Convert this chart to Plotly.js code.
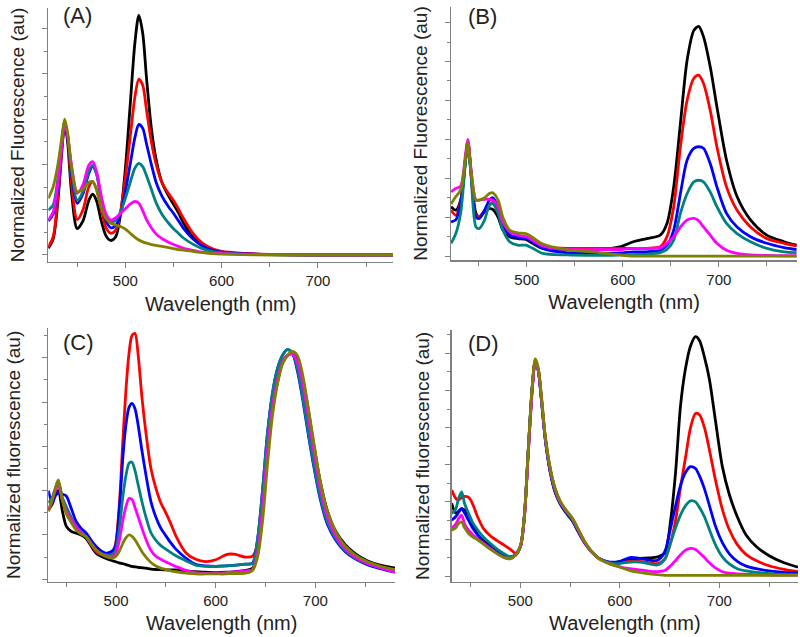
<!DOCTYPE html>
<html>
<head>
<meta charset="utf-8">
<script src="https://cdn.plot.ly/plotly-3.0.1.min.js"></script>
<style>html,body{margin:0;padding:0;background:#fff;}#chart{width:800px;height:637px;}</style>
</head>
<body>
<div id="chart"></div>
<script>
// ---------- Panel A ----------
const wlA = [420,425,430,434,437,440,444,450,456,462,466,470,475,480,485,490,495,500,505,510,514,518,522,527,532,538,545,550,555,560,570,580,590,600,620,650,700,778];
const A_black   = [0.15,0.35,1.2,2.3,2.9,2.5,1.4,0.58,0.75,1.2,1.34,1.2,0.75,0.42,0.32,0.4,0.9,1.9,3.3,4.7,5.29,4.9,3.9,2.8,2.1,1.6,1.3,1.12,0.94,0.72,0.4,0.22,0.12,0.07,0.03,0.01,0,0];
const A_red     = [0.18,0.4,1.3,2.3,2.95,2.6,1.6,0.78,1.0,1.5,1.62,1.45,1.0,0.6,0.48,0.55,0.95,1.7,2.6,3.5,3.88,3.75,3.2,2.5,2.0,1.6,1.35,1.2,1.02,0.82,0.48,0.26,0.14,0.08,0.04,0.015,0,0];
const A_blue    = [0.75,0.9,1.5,2.4,2.95,2.6,1.8,1.14,1.35,1.8,1.95,1.8,1.2,0.75,0.6,0.65,0.9,1.4,2.0,2.6,2.88,2.8,2.45,2.0,1.6,1.3,1.06,0.92,0.76,0.6,0.36,0.2,0.11,0.06,0.03,0.01,0,0];
const A_teal    = [0.99,1.1,1.7,2.5,2.95,2.65,1.9,1.21,1.4,1.85,1.98,1.8,1.25,0.85,0.74,0.76,0.95,1.25,1.6,1.92,2.02,1.95,1.75,1.45,1.15,0.9,0.7,0.58,0.48,0.38,0.24,0.14,0.08,0.05,0.02,0.01,0,0];
const A_magenta = [0.77,0.95,1.6,2.4,2.9,2.65,2.0,1.36,1.55,1.98,2.06,1.85,1.3,0.9,0.77,0.82,0.92,1.02,1.12,1.18,1.14,0.98,0.78,0.6,0.46,0.36,0.28,0.23,0.19,0.15,0.1,0.06,0.04,0.03,0.02,0.01,0,0];
const A_olive   = [1.25,1.5,2.0,2.6,3.0,2.7,1.95,1.4,1.45,1.6,1.62,1.45,1.05,0.8,0.7,0.66,0.63,0.57,0.48,0.39,0.33,0.29,0.26,0.23,0.21,0.19,0.16,0.14,0.12,0.11,0.08,0.05,0.03,0.02,0.01,0,0,0];

// ---------- Panel B ----------
const wlB = [421,426,431,436,438.5,442,447,450.5,456,461,464.5,470,475,482,490.5,499,506,516.5,541,576,597,611,625,639,646,653,660,667,674,679,684,691,698,708,719,733,750,768,781];
const B_black   = [1.27,1.18,1.44,2.47,2.9,2.1,1.1,1.0,1.14,1.22,1.2,1.0,0.67,0.5,0.45,0.43,0.33,0.2,0.17,0.17,0.24,0.37,0.45,0.54,0.84,1.78,3.41,5.04,5.8,5.9,5.64,4.87,3.84,2.47,1.53,0.93,0.54,0.37,0.28];
const B_red     = [1.18,1.05,1.4,2.45,2.95,2.1,1.05,1.02,1.18,1.31,1.39,1.18,0.75,0.54,0.5,0.48,0.39,0.24,0.2,0.2,0.2,0.2,0.2,0.24,0.5,1.27,2.81,4.01,4.57,4.65,4.44,3.75,2.81,1.78,1.18,0.75,0.45,0.33,0.26];
const B_blue    = [0.88,0.93,1.35,2.45,2.95,2.1,1.0,0.97,1.18,1.44,1.5,1.27,0.84,0.54,0.48,0.45,0.37,0.2,0.09,0.07,0.08,0.11,0.11,0.15,0.28,0.67,1.61,2.47,2.77,2.81,2.77,2.38,1.78,1.1,0.75,0.5,0.33,0.22,0.17];
const B_teal    = [0.33,0.58,1.1,2.4,2.9,2.0,0.75,0.71,0.93,1.31,1.35,1.1,0.67,0.37,0.28,0.28,0.2,0.07,0.03,0.02,0.03,0.04,0.05,0.09,0.17,0.41,1.1,1.61,1.91,1.95,1.91,1.65,1.27,0.84,0.58,0.37,0.2,0.11,0.09];
const B_magenta = [1.65,1.74,1.8,2.6,3.0,2.2,1.44,1.44,1.46,1.46,1.44,1.27,0.88,0.63,0.54,0.5,0.41,0.26,0.17,0.17,0.17,0.2,0.2,0.22,0.33,0.5,0.75,0.93,0.97,0.91,0.75,0.54,0.33,0.15,0.07,0.03,0.02,0.01,0.01];
const B_olive   = [1.34,1.53,1.7,2.5,2.92,2.15,1.44,1.44,1.5,1.61,1.63,1.44,1.0,0.67,0.6,0.58,0.48,0.31,0.17,0.09,0.03,0,0,0,0,0,0,0,0,0,0,0,0,0,0,0,0,0,0];

// ---------- Panel C ----------
const wlC = [432,436,439,442,446,450,455,460,465,470,475,480,485,490,495,499,503,507,510,513,516,519,522,526,530,535,540,545,550,555,560,570,580,590,600,610,615,620,630,637,642,647,652,657,662,667,672,677,682,687,692,698,705,712,720,730,740,752,765,780];
const C_black   = [1.56,1.7,1.95,2.0,1.55,1.2,1.08,1.04,1.0,0.92,0.75,0.59,0.52,0.47,0.43,0.4,0.37,0.35,0.33,0.31,0.29,0.28,0.27,0.26,0.25,0.23,0.22,0.22,0.21,0.21,0.21,0.19,0.17,0.16,0.15,0.16,0.16,0.17,0.2,0.25,0.55,1.5,2.8,3.8,4.45,4.88,5.05,5.1,4.95,4.55,3.95,3.1,2.2,1.55,1.1,0.78,0.58,0.42,0.32,0.25];
const C_red     = [1.56,1.75,2.0,2.2,1.8,1.49,1.3,1.19,1.08,0.96,0.78,0.62,0.56,0.55,0.58,0.75,1.6,3.2,4.3,5.1,5.5,5.55,5.1,4.1,3.3,2.5,2.05,1.72,1.5,1.25,0.98,0.6,0.45,0.4,0.44,0.55,0.57,0.56,0.5,0.52,0.8,1.7,3.0,3.9,4.5,4.9,5.05,5.08,4.85,4.4,3.75,2.9,2.0,1.4,1.0,0.7,0.52,0.38,0.27,0.17];
const C_blue    = [2.0,1.72,1.88,1.95,1.92,1.88,1.6,1.3,1.15,1.04,0.88,0.74,0.64,0.59,0.62,0.72,1.5,2.8,3.5,3.88,3.97,3.85,3.5,2.9,2.35,1.75,1.4,1.15,0.98,0.82,0.68,0.48,0.34,0.3,0.29,0.3,0.31,0.32,0.34,0.36,0.9,2.0,3.3,4.2,4.75,5.05,5.18,5.1,4.7,4.1,3.4,2.6,1.8,1.25,0.9,0.62,0.46,0.33,0.24,0.16];
const C_teal    = [1.72,1.85,2.05,2.2,1.85,1.64,1.4,1.19,1.08,0.96,0.8,0.66,0.58,0.55,0.55,0.62,1.1,1.9,2.35,2.62,2.64,2.45,2.15,1.75,1.4,1.05,0.88,0.76,0.68,0.6,0.53,0.42,0.32,0.29,0.29,0.3,0.31,0.32,0.34,0.36,0.9,2.0,3.3,4.2,4.75,5.05,5.18,5.12,4.75,4.15,3.45,2.65,1.85,1.3,0.93,0.65,0.48,0.35,0.26,0.18];
const C_magenta = [1.56,1.8,2.0,2.13,1.8,1.55,1.35,1.19,1.05,0.96,0.8,0.66,0.57,0.53,0.51,0.55,0.85,1.35,1.65,1.82,1.8,1.62,1.42,1.15,0.9,0.65,0.52,0.45,0.39,0.34,0.29,0.2,0.15,0.13,0.13,0.15,0.16,0.17,0.19,0.22,0.6,1.6,2.9,3.9,4.5,4.9,5.05,5.08,4.9,4.45,3.8,2.95,2.05,1.42,1.0,0.68,0.5,0.36,0.26,0.16];
const C_olive   = [1.53,1.8,2.05,2.24,1.8,1.49,1.28,1.11,1.02,0.96,0.8,0.66,0.57,0.51,0.48,0.5,0.62,0.82,0.94,1.0,0.97,0.89,0.78,0.62,0.5,0.38,0.3,0.25,0.22,0.19,0.17,0.14,0.12,0.12,0.12,0.12,0.13,0.13,0.14,0.2,0.5,1.3,2.6,3.7,4.4,4.85,5.05,5.14,5.05,4.65,4.0,3.15,2.2,1.55,1.1,0.75,0.55,0.4,0.3,0.22];

// ---------- Panel D ----------
const wlD = [431,435,438,441,444,448,452,457,463,470,477,484,490,495,500,504,508,512,515,518,521,525,530,535,540,546,552,558,565,572,580,590,600,610,620,630,638,645,651,656,661,666,671,676,680,685,690,696,703,710,718,727,737,750,765,779];
const D_black   = [1.96,1.7,1.75,1.82,1.78,1.65,1.4,1.12,0.95,0.82,0.68,0.56,0.52,0.56,0.79,1.6,3.4,5.1,5.8,5.55,4.8,3.7,2.8,2.25,1.95,1.7,1.5,1.2,0.88,0.64,0.46,0.36,0.39,0.46,0.48,0.49,0.52,0.62,1.5,2.8,4.6,5.6,6.2,6.45,6.35,5.9,5.3,4.2,2.95,2.2,1.6,1.1,0.8,0.55,0.36,0.24];
const D_red     = [2.32,2.1,2.05,2.12,2.15,2.12,1.95,1.6,1.28,1.08,0.95,0.83,0.72,0.62,0.8,1.6,3.4,5.1,5.8,5.55,4.85,3.75,2.9,2.35,2.0,1.75,1.55,1.25,0.9,0.65,0.46,0.36,0.38,0.4,0.4,0.36,0.34,0.45,0.9,1.5,2.4,3.2,4.0,4.38,4.35,4.0,3.4,2.6,1.8,1.25,0.85,0.58,0.42,0.28,0.18,0.12];
const D_blue    = [1.51,1.6,1.72,1.82,1.7,1.5,1.3,1.12,0.92,0.78,0.64,0.54,0.5,0.58,0.79,1.6,3.4,5.1,5.8,5.55,4.8,3.7,2.82,2.28,1.97,1.72,1.52,1.22,0.88,0.64,0.46,0.38,0.4,0.5,0.48,0.43,0.43,0.65,1.3,1.9,2.45,2.8,2.95,2.9,2.7,2.35,1.9,1.35,0.9,0.6,0.4,0.27,0.2,0.14,0.1,0.08];
const D_teal    = [1.69,1.8,2.1,2.27,1.95,1.69,1.45,1.25,1.05,0.88,0.72,0.6,0.52,0.58,0.79,1.6,3.4,5.1,5.8,5.55,4.82,3.72,2.85,2.3,1.98,1.74,1.54,1.24,0.9,0.65,0.46,0.36,0.34,0.38,0.38,0.33,0.3,0.45,0.9,1.3,1.65,1.9,2.03,2.0,1.85,1.6,1.25,0.85,0.52,0.33,0.2,0.14,0.1,0.07,0.05,0.04];
const D_magenta = [1.28,1.4,1.55,1.64,1.4,1.24,1.12,1.0,0.88,0.74,0.6,0.5,0.47,0.56,0.78,1.55,3.3,5.0,5.75,5.55,4.85,3.75,2.88,2.33,2.0,1.76,1.56,1.26,0.9,0.64,0.45,0.33,0.25,0.2,0.17,0.13,0.12,0.15,0.28,0.42,0.58,0.7,0.75,0.72,0.63,0.5,0.36,0.22,0.12,0.08,0.06,0.05,0.04,0.03,0.03,0.03];
const D_olive   = [1.24,1.3,1.42,1.46,1.3,1.15,1.06,0.98,0.86,0.72,0.6,0.5,0.47,0.56,0.8,1.62,3.45,5.15,5.85,5.62,4.9,3.8,2.92,2.36,2.03,1.78,1.58,1.28,0.92,0.65,0.45,0.33,0.24,0.15,0.1,0.06,0.04,0.02,0.02,0.02,0.02,0.02,0.02,0.02,0.02,0.02,0.02,0.02,0.02,0.02,0.02,0.02,0.02,0.02,0.02,0.02];

const colors = ['#000000','#ff0000','#0000ff','#008080','#ff00ff','#808000'];
const panels = [
  {x: wlA, ys: [A_black,A_red,A_blue,A_teal,A_magenta,A_olive], xa:'x', ya:'y'},
  {x: wlB, ys: [B_black,B_red,B_blue,B_teal,B_magenta,B_olive], xa:'x2', ya:'y2'},
  {x: wlC, ys: [C_black,C_red,C_blue,C_teal,C_magenta,C_olive], xa:'x3', ya:'y3'},
  {x: wlD, ys: [D_black,D_red,D_blue,D_teal,D_magenta,D_olive], xa:'x4', ya:'y4'}
];
const traces = [];
panels.forEach(p => {
  p.ys.forEach((y, i) => {
    traces.push({x: p.x, y: y, xaxis: p.xa, yaxis: p.ya, type: 'scatter', mode: 'lines',
      line: {color: colors[i], width: 2.8, shape: 'spline', smoothing: 0.8}, showlegend: false, hoverinfo: 'skip'});
  });
});

const FONT = 'Arial, "Liberation Sans", sans-serif';
const axCol = '#808080';
function xax(domain, range, anchor) {
  return {domain: domain, range: range, anchor: anchor, showline: true, linecolor: axCol, linewidth: 1.5,
    ticks: 'outside', ticklen: 5, tickwidth: 1, tickcolor: axCol, dtick: 100, tick0: 0,
    minor: {dtick: 50, ticks: 'outside', ticklen: 4, tickcolor: axCol, showgrid: false},
    showgrid: false, zeroline: false, tickfont: {family: FONT, size: 15, color: '#222'},
    title: {text: 'Wavelength (nm)', font: {family: FONT, size: 20, color: '#222'}, standoff: 8}};
}
function yax(domain, range, anchor, title, standoff) {
  return {domain: domain, range: range, anchor: anchor, showline: true, linecolor: axCol, linewidth: 1.5,
    ticks: 'outside', ticklen: 5, tickwidth: 1, tickcolor: axCol, dtick: 1, tick0: 0,
    minor: {dtick: 0.5, ticks: 'outside', ticklen: 3, tickcolor: axCol, showgrid: false},
    showticklabels: false, showgrid: false, zeroline: false,
    title: {text: title, font: {family: FONT, size: 19, color: '#222'}, standoff: standoff}};
}
const layout = {
  width: 800, height: 637, margin: {l: 0, r: 0, t: 0, b: 0},
  paper_bgcolor: '#ffffff', plot_bgcolor: '#ffffff', showlegend: false,
  xaxis:  xax([0.0604, 0.4913], [420, 778], 'y'),
  yaxis:  yax([0.5887, 0.9874], [-0.155, 5.45], 'x', 'Normalized Fluorescence (au)', 12),
  xaxis2: xax([0.5638, 0.9963], [421, 781.5], 'y2'),
  yaxis2: yax([0.5918, 0.989], [-0.1, 6.4], 'x2', 'Normalized Fluorescence (au)', 12),
  xaxis3: xax([0.0604, 0.4938], [432, 780], 'y3'),
  yaxis3: yax([0.0868, 0.4851], [-0.055, 5.67], 'x3', 'Normalized fluorescence (au)', 16),
  xaxis4: xax([0.5646, 0.9975], [431, 779], 'y4'),
  yaxis4: yax([0.0868, 0.4819], [-0.15, 6.63], 'x4', 'Normalized fluorescence (au)', 10),
  annotations: [
    {text: '(A)', x: 77/800, y: 1 - 15/637},
    {text: '(B)', x: 482/800, y: 1 - 16/637},
    {text: '(C)', x: 78/800, y: 1 - 342/637},
    {text: '(D)', x: 483/800, y: 1 - 343/637}
  ].map(a => Object.assign(a, {xref: 'paper', yref: 'paper', xanchor: 'center', yanchor: 'middle', showarrow: false,
    font: {family: FONT, size: 22, color: '#222'}}))
};
Plotly.newPlot('chart', traces, layout, {displayModeBar: false, staticPlot: true});
</script>
</body>
</html>
